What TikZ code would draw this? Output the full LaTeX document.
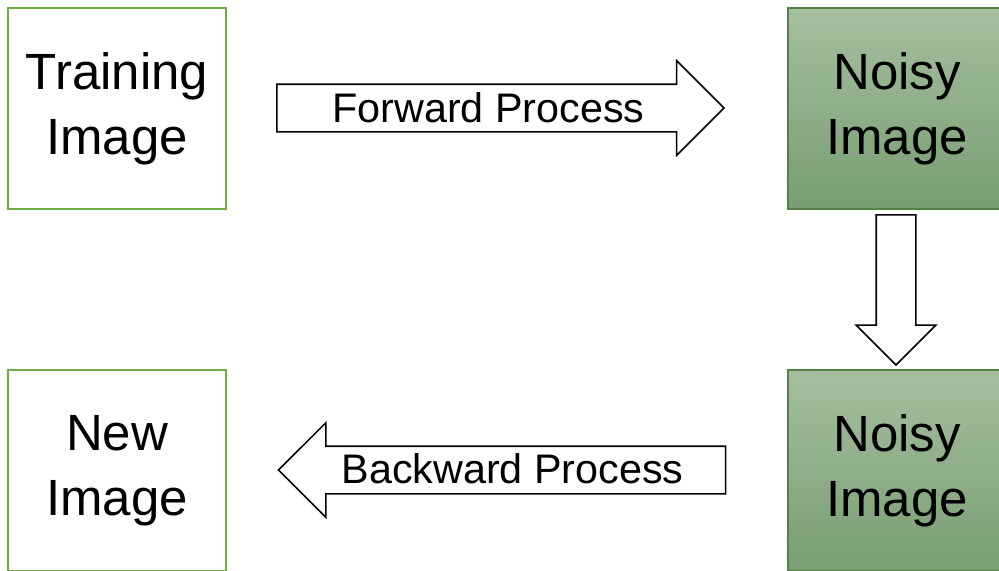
\documentclass[tikz,border=0pt]{standalone}
\usepackage{fontspec}
\setmainfont{Liberation Sans}
\usetikzlibrary{shapes.arrows}

\definecolor{boxgreen}{HTML}{70AD47}
\definecolor{noisyline}{RGB}{84,130,70}
\definecolor{noisytop}{RGB}{166,190,160}
\definecolor{noisybot}{RGB}{120,158,114}

\begin{document}
\begin{tikzpicture}
\useasboundingbox (0,0) rectangle (19.98,-11.4);
\tikzstyle{imgbox}=[minimum width=4.36cm,minimum height=4.02cm,align=center,inner sep=0pt,font=\fontsize{29}{37}\selectfont]
\tikzstyle{plain}=[imgbox,draw=boxgreen,line width=1.3pt]
\tikzstyle{noisy}=[imgbox,draw=noisyline,line width=0.6pt,top color=noisytop,bottom color=noisybot]
\tikzstyle{blockarrow}=[draw,line width=0.9pt,fill=white,shape=single arrow,single arrow tip angle=90,inner sep=0pt]
\tikzstyle{arrowtext}=[font=\fontsize{23.5}{28}\selectfont]

  \node[plain] (train) at (2.34,-2.17) {Training\\Image};
  \node[noisy] (noisy1) at (17.94,-2.17) {Noisy\\Image};
  \node[noisy] (noisy2) at (17.94,-9.41) {Noisy\\Image};
  \node[plain] (new) at (2.34,-9.41) {New\\Image};

  % block arrows between the boxes
  \node[blockarrow,minimum height=8.94cm,inner ysep=0.46cm,single arrow head extend=0.47cm] (fwd) at (9.77,-2.16) {};
  \node[blockarrow,minimum height=8.94cm,inner ysep=0.46cm,single arrow head extend=0.47cm,shape border rotate=180] (bwd) at (10.28,-9.40) {};
  \node[blockarrow,minimum height=3cm,inner sep=0.38cm,single arrow head extend=0.4cm,shape border rotate=270] (down) at (17.92,-5.60) {};

  \node[arrowtext] (fwdtext) at (fwd.center) {Forward Process};
  \node[arrowtext] (bwdtext) at ([xshift=-0.03cm,yshift=0.03cm]bwd.center) {Backward Process};

\end{tikzpicture}
\end{document}
